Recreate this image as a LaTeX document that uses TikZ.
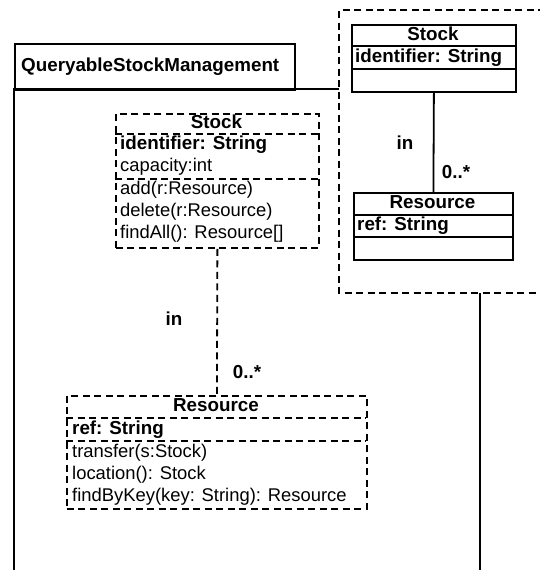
\documentclass[tikz,border=0pt]{standalone}
\usepackage{fontspec}
\setmainfont{Liberation Sans}
\begin{document}
\begin{tikzpicture}[x=1pt,y=-1pt,
  ln/.style={line width=1.8pt},
  dsh/.style={line width=1.8pt,dash pattern=on 7pt off 4.5pt},
  box/.style={draw,ln,rectangle,inner sep=0pt},
  dbox/.style={draw,dsh,rectangle,inner sep=0pt},
  txt/.style={inner sep=0pt,text height=13pt,text depth=4pt,font=\fontsize{18.4}{22}\selectfont},
  btxt/.style={txt,font=\fontsize{18.8}{22}\selectfont\bfseries},
]
\useasboundingbox (0,0) rectangle (539,570);

% package outline (tab and open body)
\node[box,minimum width=280,minimum height=46,anchor=north west] (tab) at (14,43) {};
\node[btxt,anchor=west] (pkgname) at (21,67) {QueryableStockManagement};
\coordinate (bodyTL) at (14,89);
\coordinate (bodyBL) at (14,572);
\coordinate (bodyTR) at (339,89);
\coordinate (bodyRT) at (480,293);
\coordinate (bodyRB) at (480,572);
\draw[ln] (bodyBL) -- (bodyTL) -- (bodyTR);
\draw[ln] (bodyRT) -- (bodyRB);

% dashed frame holding the plain model
\draw[dsh] (545,10) -- (339,10) -- (339,293) -- (545,293);

% plain Stock class
\node[box,minimum width=164,minimum height=67,anchor=north west] (stockR) at (351,24) {};
\draw[ln] (351,46) -- (515,46);
\draw[ln] (351,69) -- (515,69);
\node[btxt] (stockRname) at (433,35.5) {Stock};
\node[btxt,anchor=west] (stockRid) at (355,57.5) {identifier: String};

% plain Resource class
\node[box,minimum width=159,minimum height=67,anchor=north west] (resR) at (353,192) {};
\draw[ln] (353,215) -- (512,215);
\draw[ln] (353,237) -- (512,237);
\node[btxt] (resRname) at (432.5,203.5) {Resource};
\node[btxt,anchor=west] (resRref) at (357,226) {ref: String};

% association between the plain classes
\draw[ln] (stockR.south) -- (resR.north);
\node[btxt] (inR) at (405,145) {in};
\node[btxt] (multR) at (456,174) {0..*};

% queryable Stock class
\node[dbox,minimum width=203,minimum height=134,anchor=north west] (stockQ) at (115,113) {};
\draw[dsh] (115,134) -- (318,134);
\draw[dsh] (115,179) -- (318,179);
\node[btxt] (stockQname) at (216.5,123.5) {Stock};
\node[btxt,anchor=west] (stockQid) at (120,145) {identifier: String};
\node[txt,anchor=west] (stockQcap) at (120,167) {capacity:int};
\node[txt,anchor=west] (stockQadd) at (120,190) {add(r:Resource)};
\node[txt,anchor=west] (stockQdel) at (120,212) {delete(r:Resource)};
\node[txt,anchor=west] (stockQfind) at (120,234) {findAll(): Resource[]};

% queryable Resource class
\node[dbox,minimum width=300,minimum height=113,anchor=north west] (resQ) at (66,395) {};
\draw[dsh] (66,418) -- (366,418);
\draw[dsh] (66,441) -- (366,441);
\node[btxt] (resQname) at (216,406.5) {Resource};
\node[btxt,anchor=west] (resQref) at (72,429.5) {ref: String};
\node[txt,anchor=west] (resQtr) at (72,452.5) {transfer(s:Stock)};
\node[txt,anchor=west] (resQloc) at (72,474.5) {location(): Stock};
\node[txt,anchor=west] (resQkey) at (72,496.5) {findByKey(key: String): Resource};

% association between the queryable classes
\draw[dsh] (stockQ.south) -- (resQ.north);
\node[btxt] (inQ) at (174,321) {in};
\node[btxt] (multQ) at (247,374) {0..*};
\end{tikzpicture}
\end{document}
